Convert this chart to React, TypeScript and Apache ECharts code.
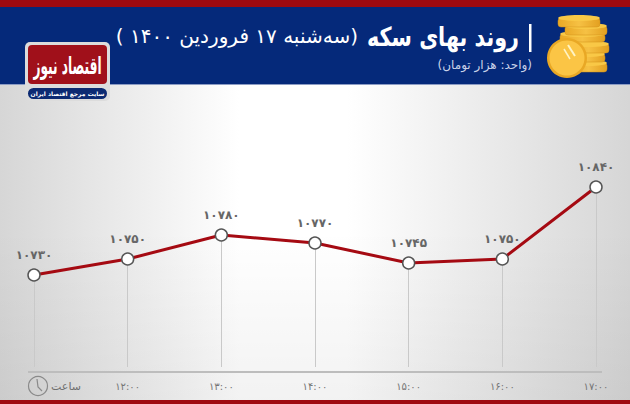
import { useEffect, useRef } from 'react';
import * as echarts from 'echarts';

const hours = ['', '۱۲:۰۰', '۱۳:۰۰', '۱۴:۰۰', '۱۵:۰۰', '۱۶:۰۰', '۱۷:۰۰'];
const prices = [10730, 10750, 10780, 10770, 10745, 10750, 10840];

const AXIS_MIN = 10615;
const AXIS_MAX = 10865;
const FONT = '"DejaVu Sans", sans-serif';
const RED = '#9f0a10';
const BLUE = '#05297a';

const toPersian = (n: number) =>
  String(n).replace(/\d/g, (d) => '۰۱۲۳۴۵۶۷۸۹'[Number(d)]);

// one ribbed coin lying flat in the pile
const flatCoin = (x: number, y: number, w: number, h: number) => [
  {
    type: 'rect',
    z: 3,
    shape: { x, y: y + 3, width: w, height: h - 3, r: 3 },
    style: {
      fill: new echarts.graphic.LinearGradient(0, 0, 1, 0, [
        { offset: 0, color: '#e9a825' },
        { offset: 0.5, color: '#f6c144' },
        { offset: 1, color: '#e3a020' },
      ]),
      stroke: '#d1911a',
      lineWidth: 0.5,
    },
  },
  {
    type: 'ellipse',
    z: 3,
    shape: { cx: x + w / 2, cy: y + 3, rx: w / 2, ry: 3 },
    style: { fill: '#f9c846' },
  },
];

function buildGraphic() {
  return [
    // soft darkening towards the bottom of the plot
    {
      type: 'rect',
      z: 0,
      shape: { x: 0, y: 230, width: 630, height: 170 },
      style: {
        fill: new echarts.graphic.LinearGradient(0, 0, 0, 1, [
          { offset: 0, color: 'rgba(0,0,0,0)' },
          { offset: 1, color: 'rgba(0,0,0,0.05)' },
        ]),
      },
    },
    // header
    { type: 'rect', z: 1, shape: { x: 0, y: 0, width: 630, height: 7 }, style: { fill: RED } },
    { type: 'rect', z: 1, shape: { x: 0, y: 7, width: 630, height: 77 }, style: { fill: BLUE } },
    { type: 'rect', z: 1, shape: { x: 0, y: 84, width: 630, height: 1 }, style: { fill: '#8c9cc4' } },
    // footer
    { type: 'rect', z: 1, shape: { x: 0, y: 400, width: 630, height: 4 }, style: { fill: RED } },
    // title
    { type: 'rect', z: 2, shape: { x: 529, y: 24, width: 2.5, height: 28 }, style: { fill: '#fff' } },
    {
      type: 'text', z: 2, x: 519, y: 37, scaleX: 0.9, scaleY: 1.15,
      style: { text: 'روند بهای سکه', font: `bold 23px ${FONT}`, fill: '#fff', align: 'right', verticalAlign: 'middle' },
    },
    {
      type: 'text', z: 2, x: 358, y: 36,
      style: { text: '\u200F(سه‌شنبه ۱۷ فروردین ۱۴۰۰ )\u200F', font: `20px ${FONT}`, fill: '#fff', align: 'right', verticalAlign: 'middle' },
    },
    {
      type: 'text', z: 2, x: 532, y: 65,
      style: { text: '\u200F(واحد: هزار تومان)\u200F', font: `12px ${FONT}`, fill: '#c9d2e8', align: 'right', verticalAlign: 'middle' },
    },
    // coins
    ...flatCoin(570, 60, 37, 12),
    ...flatCoin(570, 51, 35, 11),
    ...flatCoin(568, 41, 41, 12),
    ...flatCoin(560, 31, 45, 11),
    ...flatCoin(565, 23, 42, 12),
    ...flatCoin(558, 15, 42, 12),
    { type: 'circle', z: 3, shape: { cx: 567, cy: 58, r: 20 }, style: { fill: '#e9a825' } },
    { type: 'circle', z: 3, shape: { cx: 567, cy: 58, r: 17.5 }, style: { fill: '#fbc545' } },
    { type: 'line', z: 3, shape: { x1: 568, y1: 45, x2: 575, y2: 56 }, style: { stroke: '#fff3c4', lineWidth: 2 } },
    { type: 'line', z: 3, shape: { x1: 564, y1: 49, x2: 570, y2: 59 }, style: { stroke: '#fff3c4', lineWidth: 1.5 } },
    // logo
    { type: 'rect', z: 4, shape: { x: 25, y: 42, width: 85, height: 59, r: 5 }, style: { fill: '#dcdcdc' } },
    { type: 'rect', z: 4, shape: { x: 28, y: 45, width: 79, height: 39, r: 4 }, style: { fill: '#a0101a' } },
    {
      type: 'text', z: 5, x: 67.5, y: 65, scaleX: 0.76, scaleY: 1.5,
      style: { text: 'اقتصاد نیوز', font: `bold 16px ${FONT}`, fill: '#fff', align: 'center', verticalAlign: 'middle' },
    },
    { type: 'rect', z: 4, shape: { x: 28, y: 88, width: 79, height: 11, r: 5.5 }, style: { fill: '#0c2a72' } },
    {
      type: 'text', z: 5, x: 67.5, y: 93.5,
      style: { text: 'سایت مرجع اقتصاد ایران', font: `bold 6px ${FONT}`, fill: '#fff', align: 'center', verticalAlign: 'middle' },
    },
    // axis baseline and its caption
    { type: 'rect', z: 2, shape: { x: 28, y: 371, width: 574, height: 2 }, style: { fill: '#bdbdbd' } },
    { type: 'circle', z: 2, shape: { cx: 38, cy: 386, r: 9.5 }, style: { fill: 'none', stroke: '#8a8a8a', lineWidth: 1.2 } },
    { type: 'polyline', z: 2, shape: { points: [[37, 379], [38, 387], [42, 391]] }, style: { fill: 'none', stroke: '#8a8a8a', lineWidth: 1.2 } },
    {
      type: 'text', z: 2, x: 66, y: 386,
      style: { text: 'ساعت', font: `11px ${FONT}`, fill: '#6f6f6f', align: 'center', verticalAlign: 'middle' },
    },
  ];
}

export default function App() {
  const chartRef = useRef<HTMLDivElement>(null);

  useEffect(() => {
    if (!chartRef.current) return;
    const chart = echarts.init(chartRef.current, undefined, { renderer: 'svg' });

    chart.setOption({
      animation: false,
      backgroundColor: new echarts.graphic.LinearGradient(0, 0, 1, 0, [
        { offset: 0, color: '#d6d6d6' },
        { offset: 0.38, color: '#ffffff' },
        { offset: 0.55, color: '#ffffff' },
        { offset: 1, color: '#d6d6d6' },
      ]),
      grid: { left: 34, right: 34, top: 167, height: 200 },
      xAxis: {
        type: 'category',
        data: hours,
        boundaryGap: false,
        axisLine: { show: false },
        axisTick: { show: false },
        axisLabel: { interval: 0, margin: 14, color: '#757575', fontSize: 10, fontFamily: FONT },
      },
      yAxis: { type: 'value', min: AXIS_MIN, max: AXIS_MAX, show: false, splitLine: { show: false } },
      series: [
        {
          // only carries the drop lines, so they sit under the price line
          type: 'line',
          data: [],
          z: 1,
          markLine: {
            silent: true,
            symbol: 'none',
            label: { show: false },
            lineStyle: { color: '#c9c9c9', width: 1, type: 'solid' },
            data: prices.map((v, i) => [
              { xAxis: i, yAxis: v },
              { xAxis: i, yAxis: AXIS_MIN },
            ]),
          },
        },
        {
          type: 'line',
          data: prices,
          clip: false,
          z: 5,
          symbol: 'circle',
          symbolSize: 12,
          showAllSymbol: true,
          lineStyle: { color: '#a50a12', width: 3 },
          itemStyle: { color: '#fff', borderColor: '#555', borderWidth: 1.5 },
          label: {
            show: true,
            position: 'top',
            distance: 7,
            color: '#666',
            fontSize: 12,
            fontWeight: 'bold',
            fontFamily: FONT,
            formatter: (p: { value: number }) => toPersian(p.value),
          },
        },
      ],
      graphic: buildGraphic(),
    });

    return () => chart.dispose();
  }, []);

  return (
    <div
      ref={chartRef}
      style={{ position: 'fixed', left: 0, top: 0, width: 630, height: 404 }}
    />
  );
}
